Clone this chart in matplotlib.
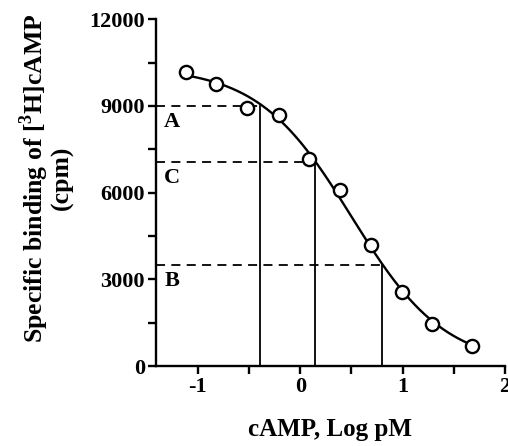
import numpy as np
import matplotlib
matplotlib.use('Agg')
import matplotlib.pyplot as plt

plt.rcParams['font.family'] = 'Liberation Serif'
plt.rcParams['font.weight'] = 'bold'
plt.rcParams['mathtext.fontset'] = 'custom'
plt.rcParams['mathtext.rm'] = 'Liberation Serif:bold'
plt.rcParams['axes.unicode_minus'] = False

# datos
log_camp = [-1.12, -0.82, -0.52, -0.21, 0.09, 0.39, 0.69, 0.99, 1.29, 1.68]
binding = [10170, 9750, 8920, 8690, 7150, 6090, 4200, 2550, 1460, 700]

# parametros del ajuste sigmoide (top, bottom, logEC50, pendiente)
top, bottom, log_ec50, hill = 10350, 0, 0.50, 0.95

# lineas guia A, C, B
guide_labels = ['A', 'C', 'B']
guide_y = [9000, 7060, 3500]
guide_x = [-0.39, 0.14, 0.80]

fig, ax = plt.subplots(figsize=(5.08, 4.46), dpi=100)
fig.subplots_adjust(left=0.307, right=0.994, bottom=0.179, top=0.957)

xx = np.linspace(min(log_camp), max(log_camp), 300)
yy = bottom + (top - bottom) / (1 + 10 ** ((xx - log_ec50) * hill))
ax.plot(xx, yy, color='black', lw=1.7, zorder=2)
ax.plot(log_camp, binding, 'o', ms=9.5, mfc='white', mec='black', mew=1.7, zorder=3)

xmin = -1.41
for lab, gy, gx in zip(guide_labels, guide_y, guide_x):
    ax.plot([xmin, gx], [gy, gy], color='black', lw=1.3, ls=(0, (5, 3.5)), zorder=1)
    ax.plot([gx, gx], [0, gy], color='black', lw=1.3, zorder=1)
    ax.text(xmin + 0.08, gy - 200, lab, fontsize=16, fontweight='bold', va='top', ha='left')

ax.set_xlim(xmin, 2)
ax.set_ylim(0, 12000)
ax.set_xticks([-1, 0, 1, 2])
ax.set_xticks([-0.5, 0.5, 1.5], minor=True)
ax.set_yticks([0, 3000, 6000, 9000, 12000])
ax.set_yticks([1500, 4500, 7500, 10500], minor=True)

for s in ['top', 'right']:
    ax.spines[s].set_visible(False)
for s in ['left', 'bottom']:
    ax.spines[s].set_linewidth(1.7)
ax.tick_params(which='both', width=1.7, length=6, labelsize=16, pad=2)

ax.set_xlabel('cAMP, Log pM', fontsize=18, fontweight='bold')
ax.xaxis.set_label_coords(0.5, -0.15)
ax.set_ylabel('Specific binding of [$^3$H]cAMP\n(cpm)', fontsize=18.5, fontweight='bold',
              linespacing=0.95)
ax.yaxis.set_label_coords(-0.235, 0.542)

plt.savefig('out.png', dpi=100)
